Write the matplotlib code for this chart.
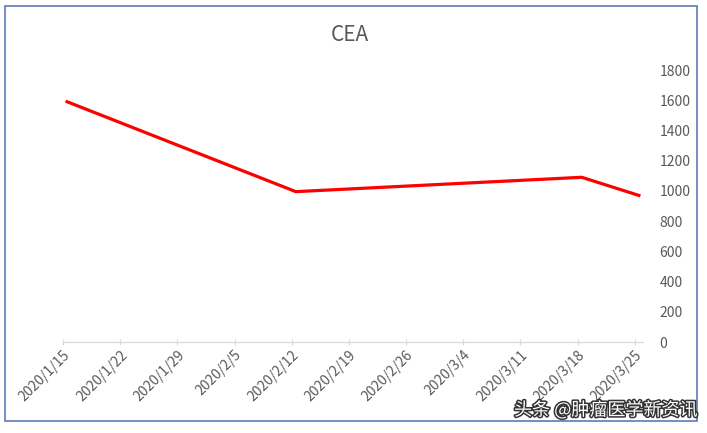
import datetime as dt
import matplotlib
matplotlib.use("Agg")
import matplotlib.pyplot as plt
import matplotlib.dates as mdates
import matplotlib.patheffects as pe
from matplotlib.patches import Rectangle

plt.rcParams['font.family'] = ['Noto Sans CJK SC', 'DejaVu Sans']

# measurement dates and CEA values
dates = [dt.datetime(2020, 1, 15), dt.datetime(2020, 2, 12),
         dt.datetime(2020, 3, 18), dt.datetime(2020, 3, 25)]
cea = [1590, 995, 1090, 970]
tick_dates = [dt.datetime(2020, 1, 15) + dt.timedelta(days=7 * i) for i in range(11)]
y_ticks = list(range(0, 1801, 200))

grey = '#595959'


def date_label(v, pos):
    d = mdates.num2date(v)
    return '{}/{}/{}'.format(d.year, d.month, d.day)


fig = plt.figure(figsize=(7.07, 4.33), dpi=100)
ax = fig.add_axes([63 / 707, 91 / 433, 580 / 707, 272 / 433])

# excel date axis: points sit in the middle of their day
half_day = dt.timedelta(hours=12)
ax.plot([d + half_day for d in dates], cea, color='#ff0000', lw=2.3)

ax.set_xlim(dt.datetime(2020, 1, 15), dt.datetime(2020, 3, 26))
ax.set_ylim(0, 1800)
ax.set_xticks(tick_dates)
ax.xaxis.set_major_formatter(plt.FuncFormatter(date_label))
ax.set_yticks(y_ticks)

for s in ['top', 'left', 'right']:
    ax.spines[s].set_visible(False)
ax.spines['bottom'].set_color('#d9d9d9')
ax.spines['bottom'].set_linewidth(0.9)

ax.yaxis.tick_right()
ax.tick_params(axis='y', length=0, pad=12, labelsize=10, labelcolor=grey)
ax.tick_params(axis='x', length=4, direction='inout', color='#d9d9d9',
               labelsize=10, labelcolor=grey, pad=2)
for lab in ax.get_yticklabels():
    lab.set_horizontalalignment('left')
plt.setp(ax.get_xticklabels(), rotation=45, ha='right', rotation_mode='anchor')

fig.text(350 / 707, 1 - 35 / 433, 'CEA', ha='center', va='center',
         fontsize=15, color=grey)

# chart border
fig.patches.append(Rectangle((5 / 707, 1 - 421 / 433), 692 / 707, 415 / 433,
                             transform=fig.transFigure, fill=False,
                             edgecolor='#5b7bb5', lw=1.2))

fig.text(697 / 707, 1 - 410 / 433, '头条 @肿瘤医学新资讯', ha='right', va='center',
         fontsize=13, color='white',
         path_effects=[pe.withStroke(linewidth=2.2, foreground='#333333')])

fig.savefig('out.png', dpi=100)
